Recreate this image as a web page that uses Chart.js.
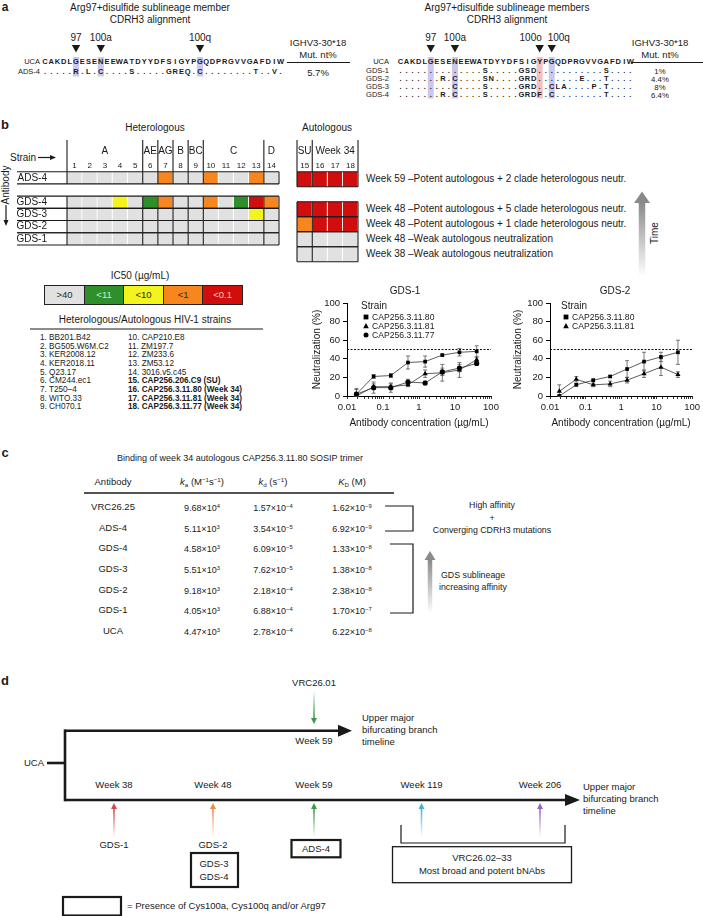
<!DOCTYPE html>
<html>
<head>
<meta charset="utf-8">
<title>Arg97+disulfide sublineage</title>
<script src="https://cdn.jsdelivr.net/npm/chart.js@4.4.1/dist/chart.umd.min.js"></script>
<style>
  html, body { margin: 0; padding: 0; background: #fff; }
  #page { position: relative; width: 703px; height: 916px; overflow: hidden;
          font-family: "Liberation Sans", Arial, Helvetica, sans-serif; color: #1a1a1a; }
  .t { position: absolute; white-space: nowrap; line-height: 1; }
  .t sup { font-size: 65%; vertical-align: 0.5em; line-height: 0; }
  .t sub { font-size: 65%; vertical-align: -0.3em; line-height: 0; }
  canvas { position: absolute; }
</style>
</head>
<body>
<div id="page"></div>
<script>
// ---------- panel a: CDRH3 alignment ----------
const ucaSeq = 'CAKDLGESENEEWATDYYDFSIGYPGQDPRGVVGAFDIW';
const adsNames = ['ADS-4'];
const adsSeqs = ['.....R.L.C....S.....GREQ.C........T..V.'];
const adsMut = ['5.7%'];
const gdsNames = ['GDS-1', 'GDS-2', 'GDS-3', 'GDS-4'];
const gdsSeqs = [
  '..............S.....GSD...........S....',
  '.......R.C....SN....GRD.......E...T....',
  '.........C....S.....GRD..CLA....P.T....',
  '.......R.C....S.....GRDF.C........T....'
];
const gdsMut = ['1%', '4.4%', '8%', '6.4%'];
const siteNames = ['97', '100a', '100o', '100q'];
const siteIndex = [5, 9, 23, 25];

// ---------- panel b: neutralization heat map ----------
const antibodies = ['ADS-4', '', 'GDS-4', 'GDS-3', 'GDS-2', 'GDS-1'];
// IC50 class per strain: 0 >40, 1 <11, 2 <10, 3 <1, 4 <0.1 (null = spacer row)
const hetIC50 = [
  [0, 0, 0, 0, 0, 0, 3, 0, 0, 3, 0, 0, 3, 0],
  null,
  [0, 0, 0, 2, 0, 1, 3, 0, 0, 3, 0, 1, 4, 3],
  [0, 0, 0, 0, 0, 0, 0, 0, 0, 0, 0, 0, 2, 0],
  [0, 0, 0, 0, 0, 0, 0, 0, 0, 0, 0, 0, 0, 0],
  [0, 0, 0, 0, 0, 0, 0, 0, 0, 0, 0, 0, 0, 0]
];
const autIC50 = [[4, 4, 4, 4], null, [4, 4, 4, 4], [3, 4, 4, 4], [0, 0, 0, 0], [0, 0, 0, 0]];
const hetClades = [['A', 1, 5], ['AE', 6, 6], ['AG', 7, 7], ['B', 8, 8], ['BC', 9, 9], ['C', 10, 13], ['D', 14, 14]];
const autClades = [['SU', 15, 15], ['Week 34', 16, 18]];
const ic50Labels = ['>40', '<11', '<10', '<1', '<0.1'];
const ic50Colors = ['#e1e1e1', '#2f8f2a', '#f3f31e', '#f7861f', '#d20d0d'];
const neutNotes = [
  'Week 59 –Potent autologous + 2 clade heterologous neutr.', '',
  'Week 48 –Potent autologous + 5 clade heterologous neutr.',
  'Week 48 –Potent autologous + 1 clade heterologous neutr.',
  'Week 48 –Weak autologous neutralization',
  'Week 38 –Weak autologous neutralization'
];
const strainsA = ['1. BB201.B42', '2. BG505.W6M.C2', '3. KER2008.12', '4. KER2018.11', '5. Q23.17',
  '6. CM244.ec1', '7. T250–4', '8. WITO.33', '9. CH070.1'];
const strainsB = ['10. CAP210.E8', '11. ZM197.7', '12. ZM233.6', '13. ZM53.12', '14. 3016.v5.c45',
  '15. CAP256.206.C9 (SU)', '16. CAP256.3.11.80 (Week 34)', '17. CAP256.3.11.81 (Week 34)', '18. CAP256.3.11.77 (Week 34)'];

// ---------- panel b: neutralization curves ----------
const conc = [0.0183, 0.0549, 0.165, 0.494, 1.48, 4.44, 13.3, 40];
const gds1_80 = [2, 21, 22, 36, 37, 44, 47, 48];
const gds1_80_err = [5, 2, 2, 7, 6, 1, 4, 6];
const gds1_81 = [0, 10, 10, 12, 24, 25, 28, 39];
const gds1_81_err = [3, 3, 3, 2, 4, 9, 8, 3];
const gds1_77 = [2, 9, 9, 15, 14, 26, 30, 35];
const gds1_77_err = [6, 6, 5, 3, 2, 4, 4, 2];
const gds2_80 = [0, 12, 17, 21, 29, 37, 42, 47];
const gds2_80_err = [1, 1, 1, 1, 9, 10, 5, 13];
const gds2_81 = [5, 18, 12, 13, 17, 24, 31, 23];
const gds2_81_err = [7, 3, 2, 3, 3, 4, 9, 3];
const ic50Cut = 50;

// ---------- panel c: binding table ----------
const bindAb = ['VRC26.25', 'ADS-4', 'GDS-4', 'GDS-3', 'GDS-2', 'GDS-1', 'UCA'];
const kaVal = [[9.68, 4], [5.11, 3], [4.58, 3], [5.51, 3], [9.18, 3], [4.05, 3], [4.47, 3]];
const kdVal = [[1.57, -4], [3.54, -5], [6.09, -5], [7.62, -5], [2.18, -4], [6.88, -4], [2.78, -4]];
const KDVal = [[1.62, -9], [6.92, -9], [1.33, -8], [1.38, -8], [2.38, -8], [1.70, -7], [6.22, -8]];

// ---------- panel d: timeline ----------
const lowerWeeks = ['Week 38', 'Week 48', 'Week 59', 'Week 119', 'Week 206'];
const weekColors = ['#d24a4a', '#f08a4b', '#3a9a45', '#4aaed6', '#9a62c8'];

const fam = '"Liberation Sans", Arial, Helvetica, sans-serif';
Chart.defaults.font.family = fam;
Chart.defaults.color = '#1a1a1a';

const page = document.getElementById('page');
const NS = 'http://www.w3.org/2000/svg';
const svg = document.createElementNS(NS, 'svg');
svg.setAttribute('width', 703);
svg.setAttribute('height', 916);
svg.style.position = 'absolute';
svg.style.left = '0';
svg.style.top = '0';
page.appendChild(svg);
const defs = document.createElementNS(NS, 'defs');
svg.appendChild(defs);

function sv(tag, at, parent) {
  const e = document.createElementNS(NS, tag);
  for (const k in at) e.setAttribute(k, at[k]);
  (parent || svg).appendChild(e);
  return e;
}
function ln(x1, y1, x2, y2, w, c) {
  return sv('line', { x1, y1, x2, y2, stroke: c || '#1a1a1a', 'stroke-width': w || 1 });
}
function box(x, y, w, h, sw) {
  return sv('rect', { x, y, width: w, height: h, fill: 'none', stroke: '#1a1a1a', 'stroke-width': sw });
}
function tri(pts, c) {
  return sv('polygon', { points: pts.map(p => p.join(',')).join(' '), fill: c || '#1a1a1a' });
}
let gradN = 0;
// arrow whose shaft fades to white away from the head
function fadeArrow(x, tipY, tailY, color, hw, hh, sw) {
  const id = 'g' + (gradN++);
  const up = tailY > tipY;
  const g = sv('linearGradient', { id, x1: 0, y1: 0, x2: 0, y2: 1 }, defs);
  sv('stop', { offset: 0, 'stop-color': color, 'stop-opacity': up ? 1 : 0 }, g);
  sv('stop', { offset: 1, 'stop-color': color, 'stop-opacity': up ? 0 : 1 }, g);
  if (up) {
    tri([[x, tipY], [x - hw, tipY + hh], [x + hw, tipY + hh]], color);
    sv('rect', { x: x - sw / 2, y: tipY + hh - 0.5, width: sw, height: tailY - tipY - hh, fill: `url(#${id})` });
  } else {
    tri([[x, tipY], [x - hw, tipY - hh], [x + hw, tipY - hh]], color);
    sv('rect', { x: x - sw / 2, y: tailY, width: sw, height: tipY - hh - tailY + 0.5, fill: `url(#${id})` });
  }
}

function txt(x, y, s, o) {
  o = o || {};
  const d = document.createElement('div');
  d.className = 't';
  d.innerHTML = s;
  d.style.fontSize = (o.size || 10) + 'px';
  if (o.bold) d.style.fontWeight = 'bold';
  if (o.color) d.style.color = o.color;
  const ax = o.align === 'left' ? '0' : o.align === 'right' ? '-100%' : '-50%';
  d.style.left = x + 'px';
  d.style.top = y + 'px';
  d.style.transform = `translate(${ax},-50%)` + (o.rot ? ` rotate(${o.rot}deg)` : '');
  page.appendChild(d);
  return d;
}
function mkCanvas(left, top, w, h) {
  const c = document.createElement('canvas');
  c.width = w;
  c.height = h;
  c.style.left = left + 'px';
  c.style.top = top + 'px';
  c.style.width = w + 'px';
  c.style.height = h + 'px';
  page.appendChild(c);
  return c;
}

// ================= panel a =================
txt(5, 7, 'a', { size: 12, bold: true });

function alignment(o) {
  const colX = i => o.x0 + i * o.dx;
  // highlighted columns
  o.marks.forEach(([i, c]) => {
    sv('rect', { x: colX(i) - o.dx / 2, y: 57, width: o.dx, height: o.hlBottom - 57, fill: c });
  });
  // site markers
  o.sites.forEach(([k, shift]) => {
    const x = colX(siteIndex[k]);
    txt(x + shift, 38, siteNames[k], { size: 10 });
    tri([[x - 4.2, 45], [x + 4.2, 45], [x, 52.5]]);
  });
  txt(o.labelRight, 62, 'UCA', { size: 7.5, align: 'right' });
  for (let i = 0; i < ucaSeq.length; i++) txt(colX(i), 62, ucaSeq[i], { size: 7.5, bold: true });
  o.names.forEach((nm, r) => {
    const y = o.rowY[r];
    txt(o.labelRight, y, nm, { size: 7.5, align: 'right' });
    for (let i = 0; i < o.seqs[r].length; i++) txt(colX(i), y, o.seqs[r][i], { size: 7.5, bold: true });
    txt(o.mutX, y + 0.5, o.mut[r], { size: o.mutSize });
  });
  txt(o.mutX, 42.5, 'IGHV3-30*18', { size: 9.5 });
  txt(o.mutX, 55, 'Mut. nt%', { size: 9.5 });
  ln(o.lineFrom, 62.5, o.lineTo, 62.5, 1);
  txt(o.titleX, 8, o.title, { size: 10 });
  txt(o.titleX, 20, 'CDRH3 alignment', { size: 10 });
}
alignment({
  x0: 45, dx: 6.2, names: adsNames, seqs: adsSeqs, mut: adsMut, rowY: [72], mutSize: 9.5,
  marks: [[5, '#c9c9ef'], [9, '#c9c9ef'], [25, '#c9c9ef']], hlBottom: 76.5, sites: [[0, 0], [1, 0], [3, 0]],
  labelRight: 40, mutX: 318, lineFrom: 287, lineTo: 350,
  titleX: 150, title: 'Arg97+disulfide sublineage member'
});
alignment({
  x0: 400.5, dx: 6.05, names: gdsNames, seqs: gdsSeqs, mut: gdsMut, rowY: [71, 79, 87, 95], mutSize: 7.8,
  marks: [[5, '#c9c9ef'], [9, '#c9c9ef'], [23, '#f4c0c0'], [25, '#c9c9ef']], hlBottom: 98.5,
  sites: [[0, 0], [1, 0], [2, -9], [3, 7]],
  labelRight: 389, mutX: 660, lineFrom: 631, lineTo: 703,
  titleX: 507, title: 'Arg97+disulfide sublineage members'
});

// ================= panel b: heat map =================
txt(5, 124, 'b', { size: 13, bold: true });
txt(155, 128, 'Heterologous', { size: 10 });
txt(327, 128, 'Autologous', { size: 10 });
txt(10, 157.5, 'Strain', { size: 10, align: 'left' });
ln(38, 157.5, 51, 157.5, 1.2);
tri([[50, 155], [56, 157.5], [50, 160]]);
txt(6, 185, 'Antibody', { size: 10, rot: -90 });
ln(6, 205, 6, 221, 1.2);
tri([[3.5, 220], [8.5, 220], [6, 226]]);

const heatLines = {
  id: 'heatLines',
  afterDatasetsDraw(chart, args, o) {
    const { ctx, chartArea: a, scales: { x, y } } = chart;
    const band = y.getPixelForValue(1) - y.getPixelForValue(0);
    ctx.save();
    ctx.strokeStyle = '#1a1a1a';
    ctx.lineWidth = 1.1;
    const left = o.fullLine ? 0 : a.left;
    o.rows.forEach((r, i) => {
      if (!r) return;
      const top = y.getPixelForValue(i) - band / 2, bot = top + band;
      [top, bot].forEach(yy => {
        ctx.beginPath(); ctx.moveTo(left, yy); ctx.lineTo(a.right, yy); ctx.stroke();
      });
      o.rowBounds.forEach(b => {
        const px = x.getPixelForValue(b);
        ctx.beginPath(); ctx.moveTo(px, top); ctx.lineTo(px, bot); ctx.stroke();
      });
    });
    o.headBounds.forEach(b => {
      const px = x.getPixelForValue(b);
      ctx.beginPath(); ctx.moveTo(px, 0); ctx.lineTo(px, a.top); ctx.stroke();
    });
    ctx.fillStyle = '#1a1a1a';
    ctx.textAlign = 'center';
    ctx.textBaseline = 'middle';
    ctx.font = '10px ' + fam;
    o.clades.forEach(([nm, from, to]) => {
      ctx.fillText(nm, x.getPixelForValue((from - o.first + to - o.first + 1) / 2), 11.5);
    });
    ctx.font = '8px ' + fam;
    for (let j = 0; j < o.n; j++) ctx.fillText(String(o.first + j), x.getPixelForValue(j + 0.5), 25.5);
    ctx.restore();
  }
};

function heatMap(left, width, rows, clades, first, showLabels, headBounds, rowBounds) {
  const n = rows.find(r => r).length;
  const cv = mkCanvas(left, 140, width, 123);
  new Chart(cv, {
    type: 'bar',
    data: {
      labels: antibodies,
      datasets: Array.from({ length: n }, (_, j) => ({
        data: rows.map(r => (r ? 1 : null)),
        backgroundColor: rows.map(r => (r ? ic50Colors[r[j]] : 'rgba(0,0,0,0)')),
        borderColor: '#ffffff',
        borderWidth: { left: 0, right: 1, top: 0, bottom: 0 },
        borderSkipped: false,
        barPercentage: 1,
        categoryPercentage: 1
      }))
    },
    options: {
      indexAxis: 'y',
      responsive: false,
      animation: false,
      layout: { padding: { top: 31.7, bottom: 1.3, left: showLabels ? 0 : 1, right: 2 } },
      plugins: {
        legend: { display: false },
        tooltip: { enabled: false },
        heatLines: { rows, clades, first, n, headBounds, rowBounds, fullLine: showLabels }
      },
      scales: {
        x: { type: 'linear', stacked: true, min: 0, max: n, display: false },
        y: {
          stacked: true, display: showLabels,
          grid: { display: false }, border: { display: false },
          ticks: { crossAlign: 'near', padding: 12, font: { size: 10 }, color: '#1a1a1a' },
          afterFit: s => { s.width = showLabels ? 50 : 0; }
        }
      }
    },
    plugins: [heatLines]
  });
}
heatMap(17, 264, hetIC50, hetClades, 1, true, [0, 5, 6, 7, 8, 9, 13], [0, 5, 6, 7, 8, 9, 13, 14]);
heatMap(296, 64, autIC50, autClades, 15, false, [0, 1, 4], [0, 1, 4]);

neutNotes.forEach((s, i) => { if (s) txt(366, 179.2 + 15 * i, s, { size: 10, align: 'left' }); });
fadeArrow(642, 191.5, 277, '#8a8a8a', 8, 11.5, 6.5);
txt(655, 233, 'Time', { size: 10, rot: -90 });

// IC50 legend
txt(140, 276, 'IC50 (µg/mL)', { size: 10 });
ic50Labels.forEach((s, k) => {
  const d = document.createElement('div');
  d.className = 't';
  Object.assign(d.style, {
    left: (44.3 + k * 39.5) + 'px', top: '285px', width: '40.5px', height: '19.5px',
    boxSizing: 'border-box', border: '1px solid #222', background: ic50Colors[k],
    fontSize: '9.5px', lineHeight: '17.5px', textAlign: 'center',
    color: k === 4 ? '#f3c4c4' : k === 1 ? '#cfe8c9' : '#2a2a2a'
  });
  d.textContent = s;
  page.appendChild(d);
});
txt(145, 320, 'Heterologous/Autologous HIV-1 strains', { size: 10 });
ln(30, 329, 263, 329, 1.2);
strainsA.forEach((s, i) => txt(40, 338 + 8.65 * i, s, { size: 8.2, align: 'left' }));
strainsB.forEach((s, i) => txt(128, 338 + 8.65 * i, s, { size: 8.2, align: 'left', bold: i >= 5 }));

// ================= panel b: neutralization curves =================
const errorBars = {
  id: 'errorBars',
  beforeDatasetsDraw(chart) {
    const { ctx, scales: { x, y } } = chart;
    ctx.save();
    ctx.strokeStyle = '#555';
    ctx.lineWidth = 0.8;
    chart.data.datasets.forEach(ds => {
      ds.data.forEach((p, i) => {
        const e = ds.errors[i];
        if (!e) return;
        const px = x.getPixelForValue(p.x);
        const y1 = y.getPixelForValue(p.y + e), y2 = y.getPixelForValue(Math.max(p.y - e, 0));
        ctx.beginPath();
        ctx.moveTo(px, y1); ctx.lineTo(px, y2);
        ctx.moveTo(px - 2, y1); ctx.lineTo(px + 2, y1);
        ctx.moveTo(px - 2, y2); ctx.lineTo(px + 2, y2);
        ctx.stroke();
      });
    });
    ctx.restore();
  }
};
const cutLine = {
  id: 'cutLine',
  afterDatasetsDraw(chart) {
    const { ctx, chartArea: a, scales: { y } } = chart;
    const yy = y.getPixelForValue(ic50Cut);
    ctx.save();
    ctx.strokeStyle = '#111';
    ctx.lineWidth = 1;
    ctx.setLineDash([2, 1.5]);
    ctx.beginPath(); ctx.moveTo(a.left, yy); ctx.lineTo(a.right, yy); ctx.stroke();
    ctx.restore();
  }
};
const isDecade = v => Math.abs(Math.log10(v) - Math.round(Math.log10(v))) < 1e-6;

function series(label, vals, errs, style) {
  return {
    label, errors: errs,
    data: conc.map((c, i) => ({ x: c, y: vals[i] })),
    borderColor: '#333', borderWidth: 0.8,
    pointStyle: style, pointRadius: style === 'triangle' ? 3 : 2.6,
    pointBackgroundColor: '#000', pointBorderColor: '#000', pointBorderWidth: 0
  };
}

function neutChart(left, width, yWidth, padRight, datasets) {
  const cv = mkCanvas(left, 284, width, 150);
  new Chart(cv, {
    type: 'line',
    data: { datasets },
    options: {
      responsive: false,
      animation: false,
      layout: { padding: { top: 19, right: padRight, left: 0, bottom: 0 } },
      plugins: { legend: { display: false }, tooltip: { enabled: false } },
      scales: {
        x: {
          type: 'logarithmic', min: 0.01, max: 100,
          border: { color: '#000', width: 1 },
          grid: { drawOnChartArea: false, tickLength: 3, color: '#000', lineWidth: 0.8 },
          ticks: { autoSkip: false, maxRotation: 0, padding: 3, font: { size: 9.5 }, color: '#1a1a1a',
                   callback: v => (isDecade(v) ? String(v) : '') },
          title: { display: true, text: 'Antibody concentration (µg/mL)', font: { size: 10 }, color: '#1a1a1a',
                   padding: { top: 0, bottom: 5 } },
          afterFit: s => { s.height = 38; }
        },
        y: {
          min: 0, max: 100,
          border: { color: '#000', width: 1 },
          grid: { drawOnChartArea: false, tickLength: 4, color: '#000' },
          ticks: { stepSize: 20, padding: 3, font: { size: 9.5 }, color: '#1a1a1a' },
          title: { display: true, text: 'Neutralization (%)', font: { size: 10 }, color: '#1a1a1a',
                   padding: { top: 6, bottom: 0 } },
          afterFit: s => { s.width = yWidth; }
        }
      }
    },
    plugins: [errorBars, cutLine]
  });
}
neutChart(305, 200, 42, 14, [
  series('CAP256.3.11.80', gds1_80, gds1_80_err, 'rect'),
  series('CAP256.3.11.81', gds1_81, gds1_81_err, 'triangle'),
  series('CAP256.3.11.77', gds1_77, gds1_77_err, 'circle')
]);
neutChart(506, 197, 44, 10, [
  series('CAP256.3.11.80', gds2_80, gds2_80_err, 'rect'),
  series('CAP256.3.11.81', gds2_81, gds2_81_err, 'triangle')
]);
txt(405, 291, 'GDS-1', { size: 10 });
txt(615, 291, 'GDS-2', { size: 10 });

function legendBlock(x, labels) {
  txt(x - 5, 306, 'Strain', { size: 10, align: 'left' });
  labels.forEach((s, i) => {
    const y = 317 + 9 * i;
    if (i === 0) sv('rect', { x: x - 2.4, y: y - 2.4, width: 4.8, height: 4.8, fill: '#000' });
    if (i === 1) tri([[x, y - 3], [x - 2.8, y + 2.2], [x + 2.8, y + 2.2]], '#000');
    if (i === 2) sv('circle', { cx: x, cy: y, r: 2.5, fill: '#000' });
    txt(x + 6, y, s, { size: 8.6, align: 'left' });
  });
}
legendBlock(366, ['CAP256.3.11.80', 'CAP256.3.11.81', 'CAP256.3.11.77']);
legendBlock(566, ['CAP256.3.11.80', 'CAP256.3.11.81']);

// ================= panel c =================
txt(5, 452, 'c', { size: 13, bold: true });
txt(240, 458, 'Binding of week 34 autologous CAP256.3.11.80 SOSIP trimer', { size: 9 });
const colX = [113, 202, 273, 352];
txt(colX[0], 482, 'Antibody', { size: 9.5 });
txt(colX[1], 482, '<i>k</i><sub>a</sub> (M<sup>−1</sup>s<sup>−1</sup>)', { size: 9.5 });
txt(colX[2], 482, '<i>k</i><sub>d</sub> (s<sup>−1</sup>)', { size: 9.5 });
txt(colX[3], 482, '<i>K</i><sub>D</sub> (M)', { size: 9.5 });
ln(84, 493, 394, 493, 1.6);
const sci = ([m, e]) => `${m.toFixed(2)}×10<sup>${e < 0 ? '−' + (-e) : e}</sup>`;
const rowY = [507, 527.5, 548, 568.5, 589.5, 610, 631];
bindAb.forEach((ab, i) => {
  txt(colX[0], rowY[i], ab, { size: 9.5 });
  txt(colX[1], rowY[i] + 1, sci(kaVal[i]), { size: 9 });
  txt(colX[2], rowY[i] + 1, sci(kdVal[i]), { size: 9 });
  txt(colX[3], rowY[i] + 1, sci(KDVal[i]), { size: 9 });
});
// brackets
sv('polyline', { points: '385,506 413,506 413,531 385,531', fill: 'none', stroke: '#1a1a1a', 'stroke-width': 1.2 });
sv('polyline', { points: '390,544 413,544 413,613 390,613', fill: 'none', stroke: '#1a1a1a', 'stroke-width': 1.2 });
txt(492, 505, 'High affinity', { size: 8.8 });
txt(492, 517.5, '+', { size: 8.8 });
txt(492, 530, 'Converging CDRH3 mutations', { size: 8.8 });
fadeArrow(430, 551, 614, '#8a8a8a', 5.5, 9, 4.5);
txt(441, 575, 'GDS sublineage', { size: 8.8, align: 'left' });
txt(439, 587, 'increasing affinity', { size: 8.8, align: 'left' });

// ================= panel d =================
txt(5, 680, 'd', { size: 13, bold: true });
txt(314, 683, 'VRC26.01', { size: 9.5 });
fadeArrow(314, 724, 690, '#3a9a45', 3, 6, 1.6);
ln(65, 730.7, 340, 730.7, 2.6);
tri([[338, 724.7], [352, 730.7], [338, 736.7]]);
txt(314, 741, 'Week 59', { size: 9.5 });
['Upper major', 'bifurcating branch', 'timeline'].forEach((s, i) => txt(362, 718 + 12 * i, s, { size: 9.5, align: 'left' }));
ln(65, 729.4, 65, 801.3, 2.6);
txt(44, 763, 'UCA', { size: 9.5, align: 'right' });
ln(47, 763, 65, 763, 2.6);
ln(65, 800, 567, 800, 2.6);
tri([[565, 794], [580, 800], [565, 806]]);
['Upper major', 'bifurcating branch', 'timeline'].forEach((s, i) => txt(583, 787 + 12 * i, s, { size: 9.5, align: 'left' }));
const weekX = [114, 213, 314, 421.5, 540];
lowerWeeks.forEach((w, i) => {
  txt(weekX[i], 785, w, { size: 9.5 });
  fadeArrow(weekX[i], 803, 838, weekColors[i], 3, 6, 1.6);
});
sv('polyline', { points: '401,825 401,843 565,843 565,825', fill: 'none', stroke: '#1a1a1a', 'stroke-width': 1.2 });
txt(114, 845, 'GDS-1', { size: 9.5 });
txt(213, 845, 'GDS-2', { size: 9.5 });
box(191, 853, 47, 34, 2.2);
txt(214, 863.5, 'GDS-3', { size: 9.5 });
txt(214, 876.5, 'GDS-4', { size: 9.5 });
box(291.5, 840, 49, 17.3, 2.2);
txt(316, 848.7, 'ADS-4', { size: 9.5 });
box(392.5, 846.7, 179, 36, 1.3);
txt(482, 858, 'VRC26.02–33', { size: 9.5 });
txt(482, 870.5, 'Most broad and potent bNAbs', { size: 9.5 });
box(63, 897, 58, 18.5, 2.2);
txt(127, 905.5, '= Presence of Cys100a, Cys100q and/or Arg97', { size: 9.5, align: 'left' });
</script>
</body>
</html>
